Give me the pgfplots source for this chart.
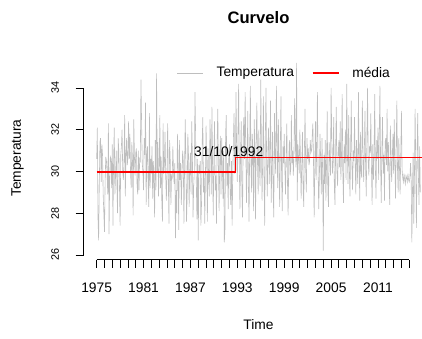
\documentclass[border=0pt]{standalone}
\usepackage{fontspec}
\setmainfont{Liberation Sans}
\usepackage{pgfplots}
\usepackage{pgfplotstable}
\pgfplotsset{compat=1.18}
\definecolor{tgray}{RGB}{190,190,190}

% monthly values, Jan 1975 onwards
\pgfplotstableread{
t
30.6
32.1
27.8
26.7
29.3
31.4
31.6
29.5
31.3
30.8
28.9
28.0
27.1
29.6
30.7
30.5
29.9
28.9
32.3
27.0
29.6
30.7
30.6
29.2
31.3
27.4
30.6
32.1
28.9
29.8
31.0
29.6
28.0
31.6
31.0
29.3
27.4
30.8
31.2
32.0
30.0
29.6
30.5
32.7
28.8
30.8
31.6
30.3
30.7
32.4
30.6
31.8
30.0
29.2
31.4
30.5
27.9
32.5
30.7
29.8
30.9
31.1
29.4
28.9
31.0
29.1
30.6
30.5
34.4
32.3
30.4
30.0
29.1
31.6
30.8
33.3
28.4
30.9
31.2
29.5
28.3
32.8
29.2
30.6
29.9
31.2
28.7
30.5
29.4
27.8
31.5
29.1
34.7
30.0
31.4
28.8
30.2
32.7
29.2
30.7
28.6
27.6
32.3
29.9
30.3
31.9
29.8
28.6
30.0
32.3
29.6
27.5
31.5
30.5
28.4
29.8
29.7
31.2
30.0
29.4
30.4
26.8
29.1
28.0
31.8
30.1
27.2
31.5
29.6
30.4
28.4
29.7
31.0
30.5
27.5
30.2
32.5
30.6
27.6
28.9
31.8
30.8
28.3
30.1
30.9
28.9
32.4
30.7
27.8
29.3
30.1
33.8
31.6
29.4
27.7
30.6
26.7
30.3
29.9
30.5
27.4
28.4
31.3
32.6
29.0
30.0
27.5
29.7
32.2
30.5
27.6
31.1
29.6
28.8
32.5
31.2
28.9
33.1
30.2
27.9
30.6
32.4
29.1
29.8
27.5
31.4
33.0
30.3
28.1
30.5
31.7
28.9
31.6
30.2
28.7
31.0
26.6
27.2
31.8
32.7
29.3
30.4
28.2
30.9
31.3
29.0
28.4
30.5
27.4
29.8
31.6
32.8
29.9
30.3
33.8
30.8
29.5
31.9
34.2
30.4
28.2
30.9
32.4
29.1
27.8
31.7
32.6
30.6
33.8
31.3
28.5
30.2
32.9
29.4
27.6
31.2
34.1
30.3
29.0
31.8
30.7
28.1
32.5
30.9
27.7
31.6
33.3
30.4
28.9
32.0
30.1
29.3
34.4
31.2
28.6
30.7
33.6
29.8
27.4
31.5
34.0
30.5
28.8
31.0
32.1
29.4
30.8
33.4
28.5
30.2
31.9
29.0
27.8
32.8
30.6
29.9
34.1
31.4
29.2
32.5
30.6
28.3
30.9
33.6
29.7
28.1
31.2
30.4
31.8
30.2
28.9
30.8
32.3
29.5
27.9
30.6
31.5
29.8
30.1
32.7
30.4
31.0
29.8
30.9
33.5
31.5
30.2
35.2
28.6
31.3
30.7
29.9
32.0
30.6
28.7
30.3
31.9
29.2
28.3
31.0
33.0
30.1
29.0
31.6
30.6
31.1
30.3
30.5
31.5
30.9
31.0
31.7
32.3
30.4
27.8
30.2
32.4
29.6
31.3
33.8
30.1
28.2
29.7
31.8
30.5
28.9
31.6
30.0
26.2
30.8
29.4
31.5
28.6
30.3
32.9
29.1
28.3
31.4
30.6
29.8
34.0
31.7
29.9
30.5
32.6
29.2
28.4
31.1
33.1
30.0
29.3
30.9
31.5
30.2
32.4
29.6
30.8
33.7
29.9
28.5
31.3
30.4
32.0
29.6
34.2
30.9
29.4
32.7
30.1
28.8
31.2
33.4
30.3
29.1
31.0
30.5
32.6
30.4
28.9
31.5
30.2
29.4
33.8
30.6
28.6
31.9
30.0
29.7
33.4
31.0
29.5
30.8
32.9
30.2
28.8
31.6
34.0
30.5
29.8
31.2
30.9
32.8
30.1
28.4
31.3
29.6
30.7
33.7
30.2
28.7
31.5
30.6
32.1
29.6
31.8
34.1
30.4
28.5
31.1
32.6
29.9
30.8
28.6
31.4
31.6
30.3
33.0
30.0
31.4
29.6
28.4
32.2
30.9
29.5
30.7
31.8
29.9
32.5
30.4
28.7
31.2
33.4
30.1
29.0
31.6
30.2
28.9
30.8
32.9
30.1
29.7
29.5
29.9
29.6
29.4
29.8
29.7
29.5
29.9
29.6
29.5
29.7
30.4
29.6
26.6
29.1
30.9
27.5
29.8
33.0
30.3
27.3
30.5
32.8
29.9
28.4
31.2
29.0
}\temps

\begin{document}
\begin{tikzpicture}[x=1pt,y=1pt]
\useasboundingbox (0,0) rectangle (422,338);
\begin{axis}[
  at={(83.7pt,78.5pt)}, anchor=south west,
  scale only axis, width=349.6pt, height=202.8pt,
  xmin=1973.34, xmax=2018.08, ymin=25.78, ymax=35.5,
  axis line style={draw=none},
  clip mode=individual,
  font=\fontsize{13.8}{16.5}\selectfont,
  /pgf/number format/assume math mode=true,
  tick align=outside, tick pos=left,
  major tick length=8pt, minor tick length=8pt,
  every tick/.style={black, line width=0.8pt},
  xtick={1975,1981,...,2011},
  minor xtick={1975,...,2015},
  xticklabel style={/pgf/number format/1000 sep={}},
  xticklabel shift=12pt,
  ytick={26,28,30,32,34},
  yticklabel style={xshift=-20.5pt, rotate=90, anchor=center, font=\fontsize{10.8}{13}\selectfont},
  yticklabel shift=0pt,
  xlabel={Time},
  xlabel style={at={(axis description cs:0.5,-0.323)}, anchor=center},
  ylabel={Temperatura},
  ylabel style={at={(axis description cs:-0.1894,0.5)}, anchor=center},
  title={Curvelo},
  title style={at={(axis description cs:0.5,1.163)}, anchor=center, font=\bfseries\fontsize{16.6}{20}\selectfont},
  legend columns=2,
  legend image code/.code={\draw[#1] (0pt,0pt) -- (26pt,0pt);},
  legend style={draw=none, fill=none, at={(axis cs:1985.28,34.72)}, anchor=west, inner sep=0pt, outer sep=0pt,
    /tikz/every odd column/.append style={column sep=11pt},
    /tikz/every even column/.append style={column sep=16pt}},
]
\addplot[draw=tgray, line width=0.6pt, mark=none]
  table[x expr={1975+\coordindex/12}, y=t]{\temps};
\addlegendentry{Temperatura}
\addplot[draw=red, line width=1.2pt, mark=none]
  coordinates {(1975,29.97) (1992.75,29.97) (1992.75,30.66) (2016.6,30.66)};
\addlegendentry{média}
\coordinate (xa) at (axis cs:1975,25.78);
\coordinate (xb) at (axis cs:2015,25.78);
\coordinate (ya) at (axis cs:1973.34,26);
\coordinate (yb) at (axis cs:1973.34,34);
\coordinate (lbl) at (axis cs:1991.9,30.96);
\end{axis}
\node[anchor=center, font=\fontsize{13.8}{16.5}\selectfont] at (lbl) {31/10/1992};
\draw[black, line width=0.8pt] (xa) -- (xb);
\draw[black, line width=0.8pt] (ya) -- (yb);
\end{tikzpicture}
\end{document}
